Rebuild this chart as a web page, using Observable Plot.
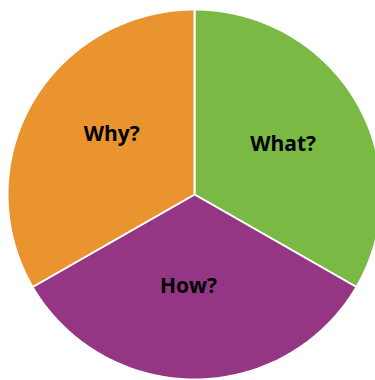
<!DOCTYPE html>
<html>
<head>
<meta charset="utf-8">
<script src="https://cdn.jsdelivr.net/npm/d3@7"></script>
<script src="https://cdn.jsdelivr.net/npm/@observablehq/plot@0.6"></script>
<style>
  html, body { margin: 0; padding: 0; background: #fff; }
  #chart svg { display: block; overflow: hidden; }
</style>
</head>
<body>
<div id="chart"></div>
<script>
const categories = ["What?", "How?", "Why?"];
const values = [1, 1, 1];
const colors = ["#79B944", "#943684", "#EA9430"];

const arcs = d3.pie().sort(null).value((d, i) => values[i])(categories);

// Build slice outlines (center + arc) in unit coordinates
const pts = [];
arcs.forEach(a => {
  pts.push({cat: a.data, x: 0, y: 0});
  const n = 120;
  for (let k = 0; k <= n; k++) {
    const t = a.startAngle + (a.endAngle - a.startAngle) * k / n;
    pts.push({cat: a.data, x: Math.sin(t), y: Math.cos(t)});
  }
});

const labelR = 0.53;
const labels = arcs.map(a => {
  const m = (a.startAngle + a.endAngle) / 2 + 0.06;
  return {cat: a.data, x: Math.sin(m) * labelR, y: Math.cos(m) * labelR};
});

const chart = Plot.plot({
  width: 375,
  height: 380,
  margin: 0,
  x: {domain: [-1, 1], range: [7, 381], axis: null},
  y: {domain: [-1, 1], range: [379, 9], axis: null},
  color: {domain: categories, range: colors},
  style: {background: "#fff"},
  marks: [
    Plot.line(pts, {
      x: "x", y: "y", z: "cat", fill: "cat",
      stroke: "white", strokeWidth: 2, curve: "linear-closed"
    }),
    Plot.text(labels, {
      x: "x", y: "y", text: "cat", dy: -6,
      fill: "black", fontSize: 21, fontWeight: "bold",
      fontFamily: "Open Sans"
    })
  ]
});
document.getElementById("chart").appendChild(chart);
</script>
</body>
</html>
